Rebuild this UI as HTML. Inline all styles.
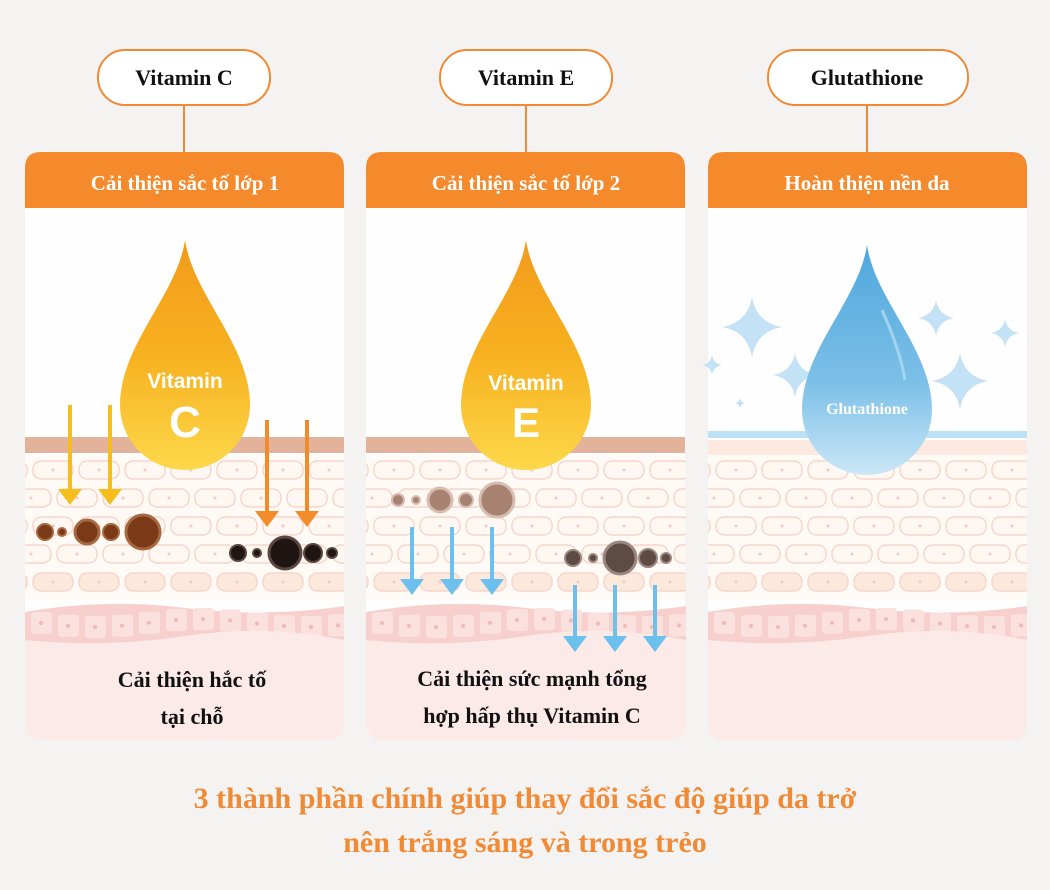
<!DOCTYPE html>
<html><head><meta charset="utf-8">
<style>
html,body{margin:0;padding:0;background:#f4f3f2;}
svg{display:block;}
.ser{font-family:"Liberation Serif",serif;font-weight:bold;}
.sans{font-family:"Liberation Sans",sans-serif;font-weight:bold;}
</style></head><body>
<svg id="s" width="1050" height="890" viewBox="0 0 1050 890" xmlns="http://www.w3.org/2000/svg">
<defs>
<linearGradient id="gy" x1="0" y1="0" x2="0" y2="1"><stop offset="0" stop-color="#f29a1c"/><stop offset="0.5" stop-color="#f7b11f"/><stop offset="1" stop-color="#fcd84a"/></linearGradient>
<linearGradient id="gb" x1="0" y1="0" x2="0" y2="1"><stop offset="0" stop-color="#4fa7dc"/><stop offset="0.6" stop-color="#7cc0e8"/><stop offset="1" stop-color="#cbe7f6"/></linearGradient>
<clipPath id="c1"><rect x="25" y="180" width="319" height="560" rx="16"/></clipPath>
<clipPath id="c2"><rect x="366" y="180" width="320" height="560" rx="16"/></clipPath>
<clipPath id="c3"><rect x="708" y="180" width="319" height="560" rx="16"/></clipPath>
</defs>
<g id="panels"></g>
<text x="525" y="808" text-anchor="middle" class="ser" font-size="30" fill="#f08a35">3 thành phần chính giúp thay đổi sắc độ giúp da trở</text>
<text x="525" y="852" text-anchor="middle" class="ser" font-size="30" fill="#f08a35">nên trắng sáng và trong trẻo</text>
</svg>
<script>
const P=document.getElementById('panels');
let h='';
const xs=[25,366,708];
xs.forEach((x,i)=>{
 const w=319;
 let g=`<g clip-path="url(#c${i+1})">`;
 g+=`<rect x="${x}" y="150" width="${w}" height="590" fill="#fefefe"/>`;
 if(i<2){g+=`<rect x="${x}" y="437" width="${w}" height="16" fill="#e3b29a"/>`;}
 else{g+=`<rect x="${x}" y="431" width="${w}" height="7" fill="#bde0f2"/><rect x="${x}" y="440" width="${w}" height="15" fill="#fde9df"/>`;}
 g+=`<rect x="${x}" y="455" width="${w}" height="145" fill="#fffaf6"/>`;
 const rows=[461,489,517,545,573];
 rows.forEach((y,r)=>{
  const off=(r%2)?-22:0;
  for(let k=-1;k<8;k++){const rx=x+off+k*46+8;
   const fill=r==4?'#fde9dc':'#fff8f2';
   g+=`<rect x="${rx}" y="${y}" width="40" height="18" rx="8" fill="${fill}" stroke="#f6d6cc" stroke-width="1.5"/><circle cx="${rx+20}" cy="${y+9}" r="1.5" fill="#f3c9c0"/>`;}
 });
 g+=`<path d="M${x} 612 Q${x+80} 598 ${x+160} 608 T${x+320} 606 L${x+320} 742 L${x} 742 Z" fill="#f7d0cd"/>`;
 for(let k=0;k<12;k++){const bx=x+6+k*27,by=612+Math.sin(k*0.8)*4;
  g+=`<rect x="${bx}" y="${by}" width="21" height="22" rx="3" fill="#fbe1de"/><circle cx="${bx+10}" cy="${by+11}" r="2" fill="#f0b8b6"/>`;}
 g+=`<path d="M${x} 640 Q${x+80} 648 ${x+160} 636 T${x+320} 640 L${x+320} 742 L${x} 742 Z" fill="#fbeae7"/>`;
 g+=`</g>`;
 g+=`<path d="M${x} 208 L${x} 168 Q${x} 152 ${x+16} 152 L${x+w-16} 152 Q${x+w} 152 ${x+w} 168 L${x+w} 208 Z" fill="#f58a2c"/>`;
 h+=g;
});
h+=`<text x="185" y="190" text-anchor="middle" class="ser" font-size="21" fill="#fff">Cải thiện sắc tố lớp 1</text>`;
h+=`<text x="526" y="190" text-anchor="middle" class="ser" font-size="21" fill="#fff">Cải thiện sắc tố lớp 2</text>`;
h+=`<text x="867" y="190" text-anchor="middle" class="ser" font-size="21" fill="#fff">Hoàn thiện nền da</text>`;
[[98,270,'Vitamin C',184],[440,612,'Vitamin E',526],[768,968,'Glutathione',867]].forEach(([a,b,t,c])=>{
 h+=`<line x1="${c}" y1="105" x2="${c}" y2="152" stroke="#f08a35" stroke-width="2"/>`;
 h+=`<rect x="${a}" y="50" width="${b-a}" height="55" rx="27" fill="#fff" stroke="#f08a35" stroke-width="2"/>`;
 h+=`<text x="${c}" y="85" text-anchor="middle" class="ser" font-size="22" fill="#111">${t}</text>`;
});
function drop(cx,top,fill){return `<path d="M${cx} ${top} C${cx+8} ${top+55} ${cx+65} ${top+105} ${cx+65} ${top+165} A65 65 0 0 1 ${cx-65} ${top+165} C${cx-65} ${top+105} ${cx-8} ${top+55} ${cx} ${top} Z" fill="${fill}"/>`;}
function arrow(x,y1,y2,c,w){return `<line x1="${x}" y1="${y1}" x2="${x}" y2="${y2-12}" stroke="${c}" stroke-width="${w}"/><path d="M${x-12} ${y2-16} L${x+12} ${y2-16} L${x} ${y2} Z" fill="${c}"/>`;}
function dots(arr,y,fill,ring){return arr.map(([x,r])=>`<circle cx="${x}" cy="${y}" r="${r}" fill="${fill}" stroke="${ring}" stroke-width="${r>10?3:2}"/>`).join('');}
h+=arrow(70,405,505,'#f5be1c',4)+arrow(110,405,505,'#f5be1c',4);
h+=drop(185,240,'url(#gy)');
h+=`<text x="185" y="388" text-anchor="middle" class="sans" font-size="21" fill="#fff">Vitamin</text><text x="185" y="437" text-anchor="middle" class="sans" font-size="44" fill="#fff">C</text>`;
h+=arrow(267,420,527,'#f28b2a',4)+arrow(307,420,527,'#f28b2a',4);
h+=dots([[45,8],[62,4],[87,12],[111,8],[143,17]],532,'#7a3a18','#a8683f');
h+=dots([[238,8],[257,4],[285,16],[313,9],[332,5]],553,'#1f1512','#5a4640');
h+=drop(526,240,'url(#gy)');
h+=`<text x="526" y="390" text-anchor="middle" class="sans" font-size="21" fill="#fff">Vitamin</text><text x="526" y="437" text-anchor="middle" class="sans" font-size="42" fill="#fff">E</text>`;
h+=dots([[398,6],[416,4],[440,12],[466,7],[497,17]],500,'#a88270','#d7bcb0');
h+=dots([[573,8],[593,4],[620,16],[648,9],[666,5]],558,'#5e4b44','#9a8880');
[412,452,492].forEach(x=>h+=arrow(x,527,595,'#6cc0ee',4));
[575,615,655].forEach(x=>h+=arrow(x,585,652,'#6cc0ee',4));
function star(x,y,s){return `<path d="M${x} ${y-s} Q${x+s*0.15} ${y-s*0.15} ${x+s} ${y} Q${x+s*0.15} ${y+s*0.15} ${x} ${y+s} Q${x-s*0.15} ${y+s*0.15} ${x-s} ${y} Q${x-s*0.15} ${y-s*0.15} ${x} ${y-s} Z" fill="#c3e2f5"/>`;}
h+=star(752,327,30)+star(795,375,22)+star(740,403,5)+star(936,318,18)+star(1005,333,14)+star(960,381,28)+star(712,365,10);
h+=drop(867,245,'url(#gb)');
h+=`<path d="M882 310 Q900 350 905 380" stroke="#b9def3" stroke-width="3" fill="none" opacity="0.7"/>`;
h+=`<text x="867" y="414" text-anchor="middle" class="ser" font-size="16" fill="#fff">Glutathione</text>`;
h+=`<text x="192" y="687" text-anchor="middle" class="ser" font-size="22" fill="#111">Cải thiện hắc tố</text><text x="192" y="724" text-anchor="middle" class="ser" font-size="22" fill="#111">tại chỗ</text>`;
h+=`<text x="532" y="686" text-anchor="middle" class="ser" font-size="22" fill="#111">Cải thiện sức mạnh tổng</text><text x="532" y="723" text-anchor="middle" class="ser" font-size="22" fill="#111">hợp hấp thụ Vitamin C</text>`;
P.innerHTML=h;
</script>
</body></html>
